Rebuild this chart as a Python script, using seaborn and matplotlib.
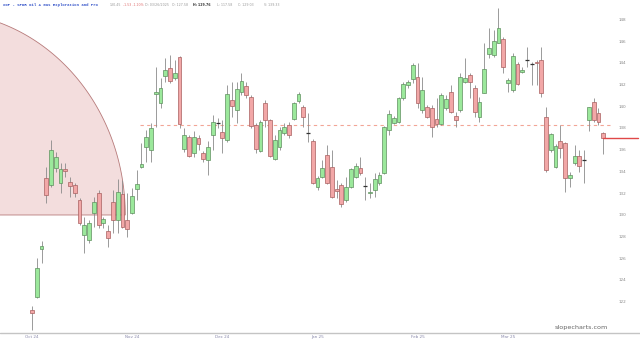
import numpy as np
import pandas as pd
import matplotlib
matplotlib.use("Agg")
import matplotlib.pyplot as plt
from matplotlib.patches import Polygon
from matplotlib.lines import Line2D
import seaborn as sns

# ---------------- data ----------------
opens = [121.22, 122.42, 126.84, 133.39, 132.74, 134.31, 132.93, 134.22, 133.02, 132.74,
         131.36, 128.13, 127.67, 130.16, 132.01, 129.24, 128.50, 131.18, 129.52, 131.91,
         129.52, 130.16, 132.37, 134.40, 136.25, 135.97, 141.13, 140.30, 142.79, 143.53,
         142.61, 144.54, 136.06, 137.17, 135.69, 137.08, 135.69, 135.05, 137.35, 138.48,
         137.63, 136.89, 140.58, 139.66, 141.32, 141.87, 140.86, 138.27, 135.88, 140.30,
         138.74, 135.14, 136.25, 137.54, 138.27, 138.83, 140.49, 139.93, 137.56, 136.80,
         132.56, 133.48, 135.51, 134.40, 132.37, 132.74, 131.36, 132.56, 133.48, 134.31,
         132.67, 132.01, 132.28, 132.93, 133.85, 137.81, 138.46, 138.55, 140.76, 141.96,
         142.52, 142.70, 139.66, 139.93, 139.84, 138.83, 138.37, 139.84, 141.32, 139.10,
         139.66, 142.24, 142.88, 141.69, 139.01, 141.23, 144.82, 144.73, 145.84, 146.20,
         142.15, 141.50, 143.90, 143.16, 144.30, 143.92, 144.08, 144.27, 139.01, 135.97,
         134.40, 136.80, 136.62, 133.39, 134.77, 135.42, 135.07, 138.74, 140.40, 139.38,
         137.54]
highs = [121.59, 126.01, 127.58, 134.40, 136.89, 135.79, 134.77, 134.77, 133.48, 132.93,
         131.54, 129.79, 129.52, 131.64, 132.28, 129.79, 129.05, 132.28, 133.30, 133.20,
         132.01, 132.47, 134.13, 136.62, 137.81, 138.46, 143.62, 142.61, 144.45, 144.73,
         144.27, 144.64, 138.00, 137.35, 137.72, 137.35, 135.88, 136.80, 139.20, 138.92,
         138.74, 141.96, 142.24, 142.24, 143.07, 142.24, 141.04, 138.46, 138.74, 140.58,
         138.80, 137.35, 138.09, 138.46, 138.55, 140.40, 141.32, 140.12, 139.38, 136.98,
         133.57, 135.05, 136.43, 135.97, 133.20, 132.93, 133.48, 134.31, 134.77, 135.32,
         133.48, 132.93, 133.85, 133.94, 138.18, 139.66, 139.10, 140.86, 142.24, 142.42,
         143.99, 143.99, 142.70, 140.12, 140.12, 140.76, 141.23, 141.04, 141.96, 139.47,
         143.07, 144.45, 143.07, 141.96, 140.86, 145.84, 147.22, 147.03, 149.06, 146.39,
         142.61, 144.91, 144.08, 143.62, 145.47, 144.08, 144.27, 145.47, 139.93, 137.54,
         136.52, 138.27, 136.71, 133.94, 136.43, 135.97, 135.97, 139.93, 140.76, 139.84,
         137.63]
lows = [119.37, 122.32, 125.55, 131.08, 132.56, 133.94, 132.01, 133.48, 131.64, 131.64,
        129.05, 126.47, 127.40, 128.87, 128.78, 128.78, 127.03, 128.32, 128.32, 128.78,
        127.95, 130.07, 131.36, 134.31, 134.86, 134.86, 138.09, 139.84, 142.24, 142.15,
        142.42, 138.00, 135.79, 135.32, 135.32, 135.97, 134.86, 133.66, 135.97, 138.00,
        135.69, 136.71, 139.01, 138.46, 141.04, 140.76, 138.00, 135.69, 135.79, 138.09,
        135.32, 135.05, 135.97, 137.35, 137.08, 138.74, 140.30, 138.09, 136.71, 132.84,
        132.28, 133.39, 132.84, 131.54, 131.54, 130.71, 131.18, 132.47, 133.39, 133.66,
        131.36, 131.54, 131.64, 132.74, 133.80, 137.35, 138.40, 138.46, 140.58, 141.69,
        142.15, 139.84, 139.38, 138.92, 137.17, 138.09, 138.27, 139.66, 139.38, 138.09,
        139.47, 142.15, 140.76, 139.01, 138.55, 141.20, 144.45, 144.54, 145.80, 143.07,
        141.32, 141.32, 141.96, 143.07, 143.62, 141.96, 141.96, 140.86, 133.94, 135.79,
        134.31, 135.23, 132.10, 132.56, 134.59, 133.94, 132.93, 137.72, 138.55, 138.27,
        135.56]
closes = [120.94, 125.09, 127.12, 131.82, 135.97, 135.32, 134.22, 134.03, 132.65, 132.01,
          129.24, 129.05, 129.24, 131.18, 129.05, 129.61, 127.86, 129.52, 132.10, 128.87,
          128.69, 131.73, 132.84, 134.68, 137.17, 138.00, 141.32, 141.69, 143.35, 142.33,
          143.07, 138.37, 137.35, 135.42, 137.17, 136.52, 135.14, 136.25, 138.55, 138.46,
          137.08, 141.13, 140.03, 141.59, 142.33, 141.04, 138.18, 136.06, 138.55, 138.74,
          135.42, 136.89, 137.81, 138.09, 137.35, 140.30, 141.13, 139.01, 137.54, 132.93,
          133.39, 134.31, 132.93, 131.64, 132.19, 130.99, 132.56, 134.22, 134.49, 133.85,
          132.65, 132.10, 133.30, 133.66, 138.09, 139.29, 138.92, 140.76, 142.06, 142.24,
          143.81, 140.30, 141.50, 139.01, 138.09, 138.37, 141.04, 140.67, 139.47, 138.74,
          142.70, 142.61, 142.24, 139.47, 140.40, 143.44, 145.37, 146.02, 147.22, 143.62,
          142.42, 144.64, 142.06, 143.35, 144.27, 143.90, 143.99, 141.23, 134.13, 137.45,
          136.34, 136.15, 133.39, 133.66, 135.42, 134.49, 135.05, 139.93, 138.74, 138.55,
          137.08]

month_labels = ["Oct 24", "Nov 24", "Dec 24", "Jan 25", "Feb 25", "Mar 25"]
month_index = [0, 21, 40, 60, 81, 100]
price_ticks = [122, 124, 126, 128, 130, 132, 134, 136, 138, 140, 142, 144, 146, 148]
hline_level = 138.27
hline_start = 22.7
zone_center = (-19.3, 129.98)
zone_radii = (38.9, 18.72)

df = pd.DataFrame({"o": opens, "h": highs, "l": lows, "c": closes})
df["i"] = np.arange(len(df))

# ---------------- figure ----------------
sns.set_theme(style="white")
plt.rcParams["font.family"] = ["DejaVu Sans"]

W, H = 640, 343
fig = plt.figure(figsize=(W / 100, H / 100), dpi=100)
ax = fig.add_axes([0, 10 / H, 612 / W, 333 / H])
ax.set_facecolor("white")
xlim = (-6.72, 121.85)
ax.set_xlim(*xlim)
ax.set_ylim(119.10, 149.80)

# pink elliptical zone (upper half ellipse)
t = np.linspace(0, np.pi, 200)
ex = zone_center[0] + zone_radii[0] * np.cos(t)
ey = zone_center[1] + zone_radii[1] * np.sin(t)
ax.add_patch(Polygon(np.column_stack([ex, ey]), closed=True, facecolor="#f3dddd",
                     edgecolor="#b77a7a", lw=0.6, zorder=1))

# dashed horizontal level
sns.lineplot(x=[hline_start, xlim[1]], y=[hline_level, hline_level], ax=ax,
             color="#f2a596", lw=0.8, dashes=False, linestyle=(0, (3, 3)), zorder=2)

# candles
up_face, up_edge = "#9be89b", "#5f8f5f"
dn_face, dn_edge = "#f2a7a7", "#a86060"
wick_col = "#8a8a8a"
bw = 0.8
for _, r in df.iterrows():
    ax.vlines(r.i, r.l, r.h, color=wick_col, lw=0.6, zorder=3)
    if abs(r.c - r.o) < 0.06:
        ax.hlines(r.c, r.i - bw / 2, r.i + bw / 2, color="#333333", lw=0.9, zorder=4)
        continue
    up = r.c >= r.o
    bot, top = min(r.o, r.c), max(r.o, r.c)
    ax.bar(r.i, top - bot, bottom=bot, width=bw,
           color=up_face if up else dn_face,
           edgecolor=up_edge if up else dn_edge, linewidth=0.5, zorder=4)

# last price line
last_i = df.i.iloc[-1]
ax.plot([last_i, 127.3], [closes[-1], closes[-1]], color="#e04848", lw=1.0,
        clip_on=False, zorder=5)

# axes styling
for s in ax.spines.values():
    s.set_visible(False)
ax.yaxis.tick_right()
ax.set_yticks(price_ticks)
ax.set_yticklabels([str(v) for v in price_ticks])
ax.tick_params(axis="y", length=0, pad=5, labelsize=3, labelcolor="#888888")
ax.set_xticks(month_index)
ax.set_xticklabels(month_labels)
ax.tick_params(axis="x", length=0, pad=1.5, labelsize=3, labelcolor="#8888aa")
ax.grid(False)

# bottom separator line
fig.add_artist(Line2D([0, 1], [10 / H, 10 / H], transform=fig.transFigure,
                      color="#c4c4c4", lw=1.0))

# watermark
fig.text(608 / W, 1 - 327 / H, "slopecharts.com", ha="right", va="center",
         fontsize=4.6, color="#666666")

# header
def ftxt(x, s, size=2.35, **kw):
    fig.text(x / W, 1 - 5 / H, s, ha="left", va="center", fontsize=size, **kw)

ftxt(3, "XOP - SPDR Oil & Gas Exploration and Pro", size=2.8, color="#3050c8",
     family="Liberation Mono", fontweight="bold")
ftxt(110, "130.45", color="#999999")
ftxt(123, "-1.53 -1.10%", color="#e07070")
ftxt(145, "D: 03/26/2025", color="#999999")
ftxt(172, "O: 127.58", color="#999999")
ftxt(193, "H: 129.76", color="#333333", fontweight="bold")
ftxt(217, "L: 117.58", color="#999999")
ftxt(238, "C: 129.03", color="#999999")
ftxt(264, "V: 139.33", color="#999999")

fig.savefig("out.png", dpi=100)
